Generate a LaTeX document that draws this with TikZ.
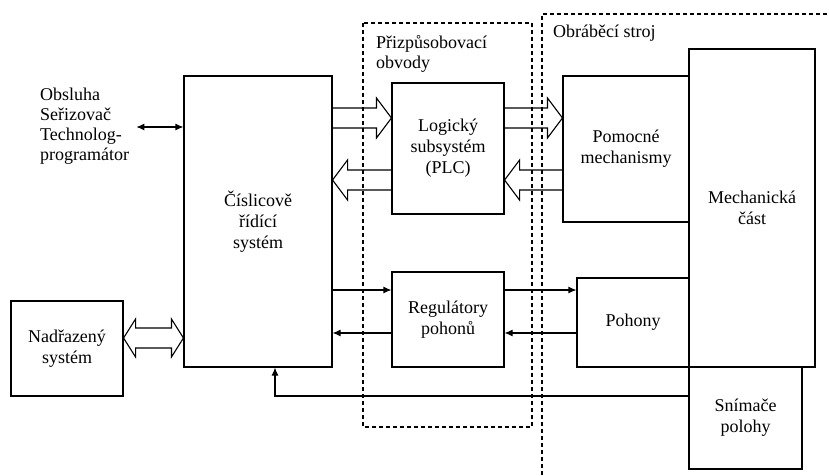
\documentclass[tikz,border=0pt]{standalone}
\usepackage{fontspec}
\setmainfont{Liberation Serif}
\usetikzlibrary{arrows.meta,calc}
\tikzset{
    blok/.style={draw, line width=1.1pt, inner sep=0pt, align=center, font=\fontsize{18}{21}\selectfont},
    popis/.style={inner sep=0pt, align=left, font=\fontsize{18}{20}\selectfont},
    ramec/.style={line width=1.1pt, dash pattern=on 4pt off 3pt},
    spoj/.style={line width=1.1pt, -{Latex[length=8pt,width=7pt]}},
    obespoj/.style={line width=1.1pt, {Latex[length=8pt,width=7pt]}-{Latex[length=8pt,width=7pt]}},
    tlusta/.style={line width=1.1pt, line join=miter}
}
% hollow arrow: #1 start, #2 tip, #3 point giving the height
\newcommand{\dutasipka}[3]{%
    \draw[tlusta] let \p1=(#1), \p2=(#2), \p3=(#3), \n1={\x2-15*sign(\x2-\x1)} in
        (\x1,{\y3+10pt}) -- (\n1,{\y3+10pt}) -- (\n1,{\y3+20pt}) -- (\x2,\y3)
        -- (\n1,{\y3-20pt}) -- (\n1,{\y3-10pt}) -- (\x1,{\y3-10pt});}
\begin{document}
\begin{tikzpicture}[x=1pt,y=-1pt]
        \useasboundingbox (0,0) rectangle (829,475);
        % frames
        \draw[ramec] (363,23) rectangle (532,427);
        \draw[ramec] (542,475) |- (829,14);
        \node[popis, anchor=north west] (prizp) at (376,35) {Přizpůsobovací\\obvody};
        \node[popis, anchor=base west] (stroj) at (553,37) {Obráběcí stroj};
        % boxes
        \node[blok, minimum width=148pt, minimum height=291pt] (cis) at (258,221.5) {Číslicově\\řídící\\systém};
        \node[blok, minimum width=112pt, minimum height=131pt] (log) at (448,148.5) {Logický\\subsystém\\(PLC)};
        \node[blok, minimum width=126pt, minimum height=146pt] (pom) at (626,149) {Pomocné\\mechanismy};
        \node[blok, minimum width=126pt, minimum height=318pt] (mech) at (752,208) {Mechanická\\část};
        \node[blok, minimum width=112pt, minimum height=95pt] (reg) at (448,319.5) {Regulátory\\pohonů};
        \node[blok, minimum width=112pt, minimum height=89pt] (poh) at (633,322.5) {Pohony};
        \node[blok, minimum width=113pt, minimum height=102pt] (snim) at (745.5,418) {Snímače\\polohy};
        \node[blok, minimum width=112pt, minimum height=95pt] (nad) at (67,348.5) {Nadřazený\\systém};
        \node[popis, anchor=west] (obs) at (40,126) {Obsluha\\Seřizovač\\Technolog-\\programátor};
        % thin arrows
        \draw[obespoj] ([xshift=7pt,yshift=-1pt]obs.east) -- ([yshift=-1pt]obs.east -| cis.west);
        \coordinate (r1) at ([yshift=29.5pt]reg.west);\coordinate (r2) at ([yshift=-13.5pt]reg.west);
        \draw[spoj] (cis.east |- r1) -- (r1);\draw[spoj] (r2) -- (cis.east |- r2);
        \draw[spoj] (reg.east |- r1) -- (poh.west |- r1);\draw[spoj] (poh.west |- r2) -- (reg.east |- r2);
        \draw[spoj] ([yshift=22pt]snim.west) -| ([xshift=17pt]cis.south);
        % hollow arrows
        \dutasipka{cis.east}{log.west}{[yshift=30.5pt]log.west}
        \dutasipka{log.west}{cis.east}{[yshift=-31.5pt]log.west}
        \dutasipka{log.east}{pom.west}{[yshift=30.5pt]log.east}
        \dutasipka{pom.west}{log.east}{[yshift=-31.5pt]log.east}
        \draw[tlusta] let \p1=(nad.east), \p2=(cis.west), \p3=([yshift=10.5pt]nad.east) in
            (\x1,\y3) -- ({\x1+12pt},{\y3+19pt}) -- ({\x1+12pt},{\y3+10pt}) -- ({\x2-12pt},{\y3+10pt}) -- ({\x2-12pt},{\y3+19pt}) -- (\x2,\y3)
            -- ({\x2-12pt},{\y3-19pt}) -- ({\x2-12pt},{\y3-10pt}) -- ({\x1+12pt},{\y3-10pt}) -- ({\x1+12pt},{\y3-19pt}) -- cycle;
\end{tikzpicture}
\end{document}
